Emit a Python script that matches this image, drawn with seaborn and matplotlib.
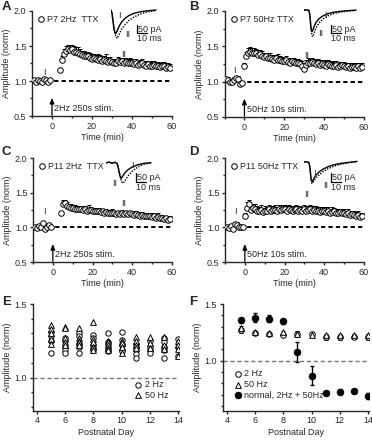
import numpy as np
import pandas as pd
import matplotlib
matplotlib.use("Agg")
import matplotlib.pyplot as plt
import seaborn as sns
from matplotlib.ticker import MultipleLocator

# ---------------- data ----------------
# time axis (min) for panels A-D
t_pre = np.arange(-9, 0)
t_post_2hz = np.arange(4, 60)
t_post_50hz = np.arange(0, 60)

# A: P7 2Hz TTX
a_pre = [1.01, 0.99, 1.02, 1.00, 0.98, 1.03, 1.01, 0.99, 1.02]
a_pre_err = [0.02, 0.03, 0.02, 0.02, 0.03, 0.02, 0.02, 0.03, 0.02]
a_post = [1.15, 1.30, 1.39, 1.43, 1.45, 1.44, 1.45, 1.42, 1.41, 1.40,
          1.38, 1.37, 1.36, 1.35, 1.36, 1.33, 1.32, 1.33, 1.31, 1.30,
          1.31, 1.29, 1.30, 1.28, 1.27, 1.28, 1.27, 1.26, 1.25, 1.28,
          1.27, 1.28, 1.26, 1.27, 1.25, 1.26, 1.25, 1.24, 1.26, 1.23,
          1.24, 1.25, 1.23, 1.22, 1.24, 1.21, 1.22, 1.23, 1.21, 1.22,
          1.20, 1.22, 1.21, 1.19, 1.20, 1.18]
a_post_err = [0.03, 0.05, 0.06, 0.07, 0.07, 0.07, 0.06, 0.08, 0.07, 0.09,
              0.07, 0.06, 0.07, 0.06, 0.05, 0.07, 0.06, 0.05, 0.06, 0.08,
              0.06, 0.07, 0.06, 0.10, 0.07, 0.06, 0.05, 0.06, 0.05, 0.06,
              0.06, 0.05, 0.07, 0.06, 0.06, 0.07, 0.06, 0.05, 0.06, 0.05,
              0.06, 0.07, 0.06, 0.06, 0.05, 0.06, 0.06, 0.05, 0.06, 0.05,
              0.06, 0.05, 0.06, 0.06, 0.05, 0.06]

# B: P7 50Hz TTX
b_pre = [1.04, 1.02, 1.00, 0.99, 1.03, 1.05, 1.04, 0.97, 0.98]
b_pre_err = [0.03, 0.04, 0.02, 0.02, 0.03, 0.03, 0.04, 0.02, 0.02]
b_post = [1.22, 1.36, 1.40, 1.42, 1.41, 1.41, 1.40, 1.38, 1.39, 1.37,
          1.35, 1.36, 1.33, 1.34, 1.32, 1.31, 1.33, 1.30, 1.31, 1.29,
          1.29, 1.30, 1.28, 1.27, 1.29, 1.28, 1.26, 1.27, 1.25, 1.22,
          1.18, 1.24, 1.27, 1.26, 1.28, 1.26, 1.25, 1.27, 1.24, 1.25,
          1.24, 1.22, 1.25, 1.23, 1.22, 1.22, 1.24, 1.21, 1.22, 1.23,
          1.22, 1.21, 1.22, 1.20, 1.21, 1.21, 1.20, 1.22, 1.20, 1.21]
b_post_err = [0.04, 0.06, 0.07, 0.07, 0.06, 0.07, 0.06, 0.07, 0.06, 0.06,
              0.06, 0.05, 0.07, 0.06, 0.06, 0.07, 0.05, 0.09, 0.06, 0.06,
              0.05, 0.06, 0.05, 0.06, 0.05, 0.06, 0.06, 0.05, 0.06, 0.07,
              0.08, 0.07, 0.06, 0.06, 0.05, 0.06, 0.06, 0.05, 0.06, 0.06,
              0.06, 0.07, 0.05, 0.06, 0.06, 0.07, 0.05, 0.06, 0.06, 0.05,
              0.06, 0.06, 0.05, 0.07, 0.06, 0.06, 0.06, 0.05, 0.07, 0.06]

# C: P11 2Hz TTX
c_pre = [1.00, 0.99, 1.02, 1.01, 1.06, 0.98, 1.00, 1.03, 1.01]
c_pre_err = [0.03, 0.02, 0.02, 0.03, 0.02, 0.03, 0.02, 0.02, 0.03]
c_post = [1.20, 1.33, 1.35, 1.31, 1.29, 1.28, 1.28, 1.27, 1.26, 1.27,
          1.26, 1.25, 1.26, 1.24, 1.25, 1.25, 1.24, 1.23, 1.24, 1.23,
          1.22, 1.23, 1.21, 1.22, 1.20, 1.21, 1.21, 1.20, 1.19, 1.20,
          1.19, 1.20, 1.19, 1.20, 1.19, 1.20, 1.19, 1.18, 1.19, 1.18,
          1.17, 1.18, 1.17, 1.16, 1.17, 1.16, 1.15, 1.16, 1.14, 1.15,
          1.13, 1.14, 1.12, 1.13, 1.11, 1.12]
c_post_err = [0.03, 0.06, 0.05, 0.06, 0.05, 0.05, 0.04, 0.05, 0.05, 0.04,
              0.05, 0.04, 0.05, 0.04, 0.07, 0.05, 0.04, 0.05, 0.04, 0.05,
              0.05, 0.04, 0.05, 0.04, 0.05, 0.04, 0.05, 0.04, 0.05, 0.04,
              0.04, 0.05, 0.04, 0.04, 0.05, 0.04, 0.04, 0.05, 0.04, 0.04,
              0.05, 0.04, 0.04, 0.05, 0.04, 0.04, 0.05, 0.04, 0.04, 0.05,
              0.04, 0.04, 0.05, 0.04, 0.04, 0.04]

# D: P11 50Hz TTX
d_pre = [1.00, 0.99, 1.02, 0.98, 1.05, 1.04, 1.01, 1.00, 1.00]
d_pre_err = [0.03, 0.02, 0.03, 0.02, 0.03, 0.03, 0.02, 0.02, 0.02]
d_post = [1.16, 1.28, 1.33, 1.25, 1.28, 1.27, 1.24, 1.23, 1.25, 1.22,
          1.24, 1.23, 1.26, 1.24, 1.25, 1.25, 1.24, 1.26, 1.25, 1.27,
          1.26, 1.24, 1.26, 1.25, 1.24, 1.25, 1.26, 1.24, 1.25, 1.23,
          1.26, 1.24, 1.25, 1.27, 1.24, 1.25, 1.23, 1.24, 1.22, 1.24,
          1.23, 1.22, 1.24, 1.21, 1.22, 1.23, 1.21, 1.20, 1.22, 1.20,
          1.20, 1.19, 1.21, 1.18, 1.19, 1.18, 1.17, 1.18, 1.15, 1.16]
d_post_err = [0.04, 0.09, 0.06, 0.06, 0.05, 0.06, 0.07, 0.06, 0.07, 0.06,
              0.07, 0.06, 0.06, 0.07, 0.06, 0.07, 0.06, 0.06, 0.07, 0.05,
              0.06, 0.07, 0.06, 0.06, 0.07, 0.06, 0.06, 0.07, 0.06, 0.07,
              0.06, 0.07, 0.06, 0.05, 0.07, 0.06, 0.08, 0.06, 0.07, 0.06,
              0.06, 0.07, 0.05, 0.06, 0.07, 0.05, 0.06, 0.06, 0.05, 0.06,
              0.06, 0.05, 0.06, 0.06, 0.05, 0.06, 0.05, 0.06, 0.06, 0.05]

# inset EPSC traces (ms, pA), response I (solid) and II (dotted)
a_tr_t = [0, 1, 2, 3, 4, 5, 6, 7, 9, 11, 14, 18, 23, 29, 36, 45]
a_tr_I = [0, -20, -70, -115, -138, -140, -128, -112, -88, -70, -50, -33, -20, -11, -5, 0]
a_tr_II = [0, -15, -55, -100, -140, -162, -170, -160, -135, -112, -88, -63, -42, -25, -12, -3]
b_tr_t = [0, 3, 5, 6, 7, 8, 9, 10, 12, 15, 19, 24, 30, 37, 44, 52]
b_tr_I = [0, 0, -2, -40, -110, -130, -120, -100, -75, -52, -35, -22, -13, -8, -4, -1]
b_tr_II = [0, 0, -2, -35, -115, -155, -160, -140, -108, -78, -54, -35, -21, -12, -6, -2]
c_tr_t = [0, 3, 6, 9, 11, 12, 13, 14, 15, 16, 17, 19, 22, 26, 32, 38, 45]
c_tr_I = [0, 3, -3, 2, -4, -25, -55, -80, -94, -88, -78, -60, -42, -26, -12, -4, 0]
c_tr_II = [0, 3, -3, 2, -4, -20, -45, -75, -100, -118, -124, -108, -80, -52, -25, -9, -1]
d_tr_t = [0, 3, 5, 6, 7, 8, 9, 10, 12, 15, 19, 24, 30, 37, 45, 53]
d_tr_I = [0, -2, -5, -40, -100, -120, -112, -98, -80, -62, -45, -30, -18, -10, -4, 2]
d_tr_II = [0, -2, -5, -35, -110, -130, -126, -114, -97, -80, -60, -42, -27, -15, -6, 0]

# E: individual cells by postnatal day
e_day_2hz = [5, 5, 5, 5, 6, 6, 6, 6, 6, 7, 7, 7, 7, 7, 8, 8, 8, 8, 8,
             9, 9, 9, 9, 9, 10, 10, 10, 10, 10, 11, 11, 11, 11, 11,
             12, 12, 12, 12, 13, 13, 13, 13, 13, 14, 14, 14]
e_amp_2hz = [1.31, 1.28, 1.25, 1.17, 1.27, 1.25, 1.21, 1.19, 1.17,
             1.30, 1.28, 1.23, 1.21, 1.17, 1.29, 1.27, 1.22, 1.20, 1.185,
             1.30, 1.24, 1.21, 1.19, 1.18, 1.31, 1.255, 1.22, 1.19, 1.18,
             1.23, 1.21, 1.19, 1.16, 1.135, 1.25, 1.21, 1.19, 1.17,
             1.27, 1.245, 1.205, 1.19, 1.135, 1.265, 1.21, 1.145]
e_day_50hz = [5, 5, 5, 5, 5, 6, 6, 6, 6, 6, 7, 7, 7, 7, 7, 8, 8, 8, 8, 8,
              9, 9, 9, 9, 9, 10, 10, 10, 10, 11, 11, 11, 11,
              12, 12, 12, 13, 13, 13, 14, 14, 14, 14]
e_amp_50hz = [1.36, 1.33, 1.30, 1.26, 1.23, 1.345, 1.34, 1.27, 1.24, 1.22,
              1.335, 1.27, 1.25, 1.24, 1.22, 1.375, 1.265, 1.245, 1.21, 1.19,
              1.25, 1.24, 1.22, 1.20, 1.19, 1.25, 1.235, 1.21, 1.17,
              1.275, 1.25, 1.22, 1.20, 1.275, 1.235, 1.20,
              1.275, 1.225, 1.195, 1.25, 1.22, 1.195, 1.145]

# F: means +/- sem by postnatal day
f_day = [5, 6, 7, 8, 9, 10, 11, 12, 13, 14]
f_2hz = [1.267, 1.247, 1.238, 1.224, 1.24, 1.233, 1.205, 1.205, 1.21, 1.205]
f_2hz_err = [0.02, 0.015, 0.015, 0.015, 0.02, 0.02, 0.02, 0.025, 0.02, 0.02]
f_50hz = [1.285, 1.25, 1.245, 1.25, 1.235, 1.225, 1.225, 1.225, 1.225, 1.225]
f_50hz_err = [0.02, 0.01, 0.01, 0.015, 0.015, 0.01, 0.01, 0.01, 0.01, 0.015]
f_norm = [1.355, 1.378, 1.37, 1.346, 1.078, 0.87, 0.715, 0.727, 0.73, 0.69]
f_norm_err = [0.025, 0.04, 0.03, 0.025, 0.085, 0.08, 0.01, 0.02, 0.01, 0.025]

# ---------------- style ----------------
sns.set_style("ticks")
plt.rcParams['font.family'] = ['Liberation Sans', 'DejaVu Sans']
plt.rcParams['font.size'] = 6.5
plt.rcParams['axes.linewidth'] = 1.0
plt.rcParams['xtick.major.width'] = 1.0
plt.rcParams['ytick.major.width'] = 1.0
plt.rcParams['xtick.minor.width'] = 1.0
plt.rcParams['ytick.minor.width'] = 1.0
plt.rcParams['xtick.major.size'] = 2.5
plt.rcParams['ytick.major.size'] = 2.5
plt.rcParams['xtick.minor.size'] = 1.5
plt.rcParams['ytick.minor.size'] = 1.5
plt.rcParams['xtick.major.pad'] = 1.5
plt.rcParams['ytick.major.pad'] = 1.5

W, H = 372, 440
FS = 6.5
fig = plt.figure(figsize=(W / 100, H / 100), dpi=100)


def px_axes(left, top, right, bottom):
    return fig.add_axes([left / W, 1 - bottom / H, (right - left) / W, (bottom - top) / H])


def time_panel(ax, t_post, pre, pre_err, post, post_err, name, stim, pos_I, pos_II):
    df = pd.DataFrame({'t': np.r_[t_pre, t_post],
                       'amp': np.r_[pre, post],
                       'err': np.r_[pre_err, post_err]})
    ax.axhline(1.0, color='k', lw=1.4, ls=(0, (2.2, 1.6)), zorder=1)
    ax.errorbar(df.t, df.amp, yerr=[np.zeros(len(df)), df.err], fmt='none',
                ecolor='k', elinewidth=0.7, capsize=1.3, capthick=0.7, zorder=2)
    sns.scatterplot(data=df, x='t', y='amp', marker='o', s=16, color='white',
                    edgecolor='k', linewidth=0.7, ax=ax, label=name, zorder=3)
    ax.legend(loc='upper left', frameon=False, handletextpad=0.1, borderaxespad=0.2,
              handlelength=1.2, borderpad=0.2, fontsize=FS)
    ax.annotate('', xy=(0, 0.76), xytext=(0, 0.51),
                arrowprops=dict(arrowstyle='-|>,head_length=0.5,head_width=0.2',
                                color='k', lw=0.9, shrinkA=0, shrinkB=0))
    ax.text(1.2, 0.61, stim, va='center', ha='left', fontsize=FS)
    ax.text(pos_I[0], pos_I[1], 'I', ha='center', va='center', fontsize=FS)
    ax.text(pos_II[0], pos_II[1], 'II', ha='center', va='center', fontsize=FS)
    ax.set_xlim(-10, 60)
    ax.set_ylim(0.5, 2.0)
    ax.xaxis.set_major_locator(MultipleLocator(20))
    ax.xaxis.set_minor_locator(MultipleLocator(10))
    ax.yaxis.set_major_locator(MultipleLocator(0.5))
    ax.yaxis.set_minor_locator(MultipleLocator(0.25))
    ax.set_xlabel('Time (min)', labelpad=2)
    ax.set_ylabel('Amplitude (norm)', labelpad=2)
    sns.despine(ax=ax)


def add_trace(left, top, w, h, base, t, tr1, tr2, bar_x, bar_top, pos_I, pos_II):
    # 1 ms per pixel, 6 pA per pixel
    ax = fig.add_axes([left / W, 1 - (top + h) / H, w / W, h / H])
    ax.set_xlim(0, w)
    ax.set_ylim(-(top + h - base) * 6, (base - top) * 6)
    sns.lineplot(x=t, y=tr1, color='k', lw=1.0, ax=ax)
    sns.lineplot(x=t, y=tr2, color='k', lw=1.0, ls=(0, (1, 1)), ax=ax)
    ax.plot([bar_x, bar_x], [bar_top, bar_top - 50], color='k', lw=0.9)
    ax.plot([bar_x, bar_x + 10], [bar_top - 50, bar_top - 50], color='k', lw=0.9)
    ax.text(bar_x + 0.8, bar_top - 24, '50 pA', va='center', ha='left', fontsize=FS)
    ax.text(bar_x, bar_top - 56, '10 ms', va='top', ha='left', fontsize=FS)
    ax.text(pos_I[0], pos_I[1], 'I', ha='center', va='center', fontsize=FS)
    ax.text(pos_II[0], pos_II[1], 'II', ha='center', va='center', fontsize=FS)
    ax.axis('off')


# ---------------- panels A-D ----------------
axA = px_axes(32, 11, 172, 116)
time_panel(axA, t_post_2hz, a_pre, a_pre_err, a_post, a_post_err,
           'P7 2Hz  TTX', '2Hz 250s stim.', (-4, 1.12), (36, 1.38))
add_trace(111, 7, 50, 36, 10, a_tr_t, a_tr_I, a_tr_II, 25.7, -90, (8, -30), (16.7, -146))

axB = px_axes(224.5, 11, 364, 117)
time_panel(axB, t_post_50hz, b_pre, b_pre_err, b_post, b_post_err,
           'P7 50Hz TTX', '50Hz 10s stim.', (-5, 1.16), (31, 1.37))
add_trace(304, 7, 56, 36, 10, b_tr_t, b_tr_I, b_tr_II, 27, -90, (21, -30), (16.3, -140))

axC = px_axes(33, 158, 172, 262)
time_panel(axC, t_post_2hz, c_pre, c_pre_err, c_post, c_post_err,
           'P11 2Hz  TTX', '2Hz 250s stim.', (-4.5, 1.23), (35.5, 1.35))
add_trace(106, 158, 50, 36, 162.7, c_tr_t, c_tr_I, c_tr_II, 30, -64, (26.7, -14), (8.3, -124))

axD = px_axes(225, 158, 364, 262)
time_panel(axD, t_post_50hz, d_pre, d_pre_err, d_post, d_post_err,
           'P11 50Hz TTX', '50Hz 10s stim.', (-5, 1.23), (31, 1.47))
add_trace(304, 158, 56, 36, 161.7, d_tr_t, d_tr_I, d_tr_II, 26.7, -70, (10, -70), (22, -140))

# ---------------- panel E ----------------
axE = px_axes(32.7, 304, 178.9, 410.7)
axE.axhline(1.0, color='0.45', lw=1.0, ls=(0, (3, 2)), zorder=1)
sns.scatterplot(x=e_day_2hz, y=e_amp_2hz, marker='o', s=15, color='white',
                edgecolor='k', linewidth=0.7, ax=axE, label='2 Hz', zorder=3)
sns.scatterplot(x=e_day_50hz, y=e_amp_50hz, marker='^', s=17, color='white',
                edgecolor='k', linewidth=0.7, ax=axE, label='50 Hz', zorder=3)
axE.legend(loc='lower right', frameon=False, handletextpad=0.2, borderaxespad=0.8,
           handlelength=1.0, labelspacing=0.2, fontsize=FS)
axE.set_xlim(3.7, 14.05)
axE.set_ylim(0.776, 1.5)

# ---------------- panel F ----------------
axF = px_axes(222.7, 304, 369.3, 410.7)
axF.axhline(1.0, color='0.45', lw=1.0, ls=(0, (3, 2)), zorder=1)
axF.errorbar(f_day, f_2hz, yerr=f_2hz_err, fmt='none', ecolor='k',
             elinewidth=0.7, capsize=1.3, capthick=0.7, zorder=2)
axF.errorbar(f_day, f_50hz, yerr=f_50hz_err, fmt='none', ecolor='k',
             elinewidth=0.7, capsize=1.3, capthick=0.7, zorder=2)
axF.errorbar(f_day, f_norm, yerr=f_norm_err, fmt='none', ecolor='k',
             elinewidth=1.0, capsize=1.6, capthick=1.0, zorder=2)
sns.scatterplot(x=f_day, y=f_2hz, marker='o', s=16, color='white',
                edgecolor='k', linewidth=0.7, ax=axF, label='2 Hz', zorder=3)
sns.scatterplot(x=f_day, y=f_50hz, marker='^', s=17, color='white',
                edgecolor='k', linewidth=0.7, ax=axF, label='50 Hz', zorder=3)
sns.scatterplot(x=f_day, y=f_norm, marker='o', s=22, color='k',
                edgecolor='k', linewidth=0.7, ax=axF, label='normal, 2Hz + 50Hz', zorder=4)
axF.legend(loc='lower left', frameon=False, handletextpad=0.2, borderaxespad=0.8,
           handlelength=1.0, labelspacing=0.2, fontsize=FS)
axF.set_xlim(3.7, 14.1)
axF.set_ylim(0.56, 1.5)

for ax in (axE, axF):
    ax.xaxis.set_major_locator(MultipleLocator(2))
    ax.yaxis.set_major_locator(MultipleLocator(0.5))
    ax.yaxis.set_minor_locator(MultipleLocator(0.1))
    ax.set_xlabel('Postnatal Day', labelpad=2)
    ax.set_ylabel('Amplitude (norm)', labelpad=2)
    sns.despine(ax=ax)

# panel letters
for letter, x, y in [('A', 2, 1), ('B', 189, 1), ('C', 2, 146),
                     ('D', 189, 146), ('E', 2, 296), ('F', 189, 296)]:
    fig.text(x / W, 1 - y / H, letter, fontsize=9.5, fontweight='bold', va='top', ha='left')

fig.savefig('out.png', dpi=100)
